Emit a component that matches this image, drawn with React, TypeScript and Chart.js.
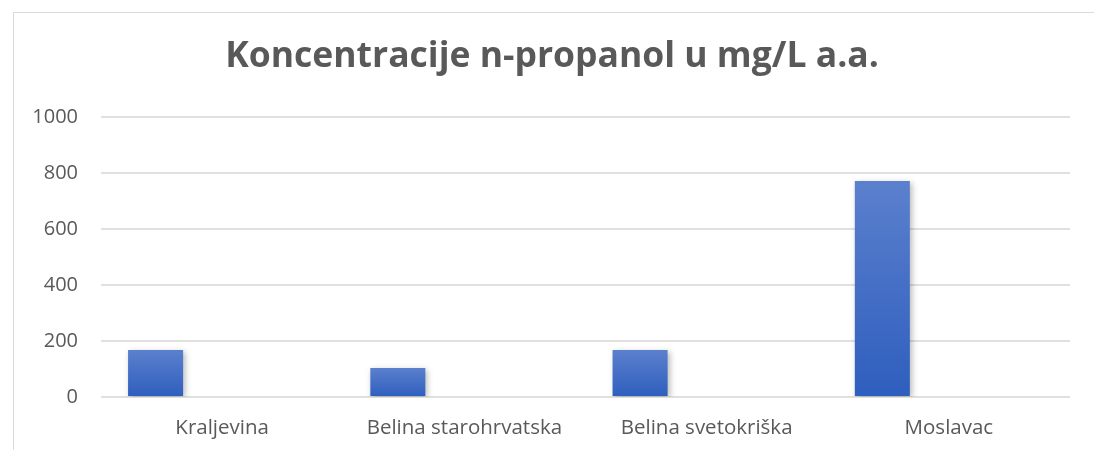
import React, { useEffect, useRef } from "react";
import { Chart, registerables } from "chart.js";

Chart.register(...registerables);

const categories = ["Kraljevina", "Belina starohrvatska", "Belina svetokriška", "Moslavac"];
const nPropanol = [168, 104, 168, 771];
const emptySeriesB: (number | null)[] = [null, null, null, null];
const emptySeriesC: (number | null)[] = [null, null, null, null];
const yTicks = [0, 200, 400, 600, 800, 1000];
const titleText = "Koncentracije n-propanol u mg/L a.a.";

const FONT = "'Open Sans', 'Liberation Sans', sans-serif";
const GREY = "#595959";

const barGradient = (ctx: any) => {
  const chart = ctx.chart;
  const { chartArea, scales } = chart;
  if (!chartArea || ctx.raw == null) return "#4472c4";
  const top = scales.y.getPixelForValue(ctx.raw);
  const bottom = scales.y.getPixelForValue(0);
  const g = chart.ctx.createLinearGradient(0, top, 0, bottom);
  g.addColorStop(0, "#5b80cd");
  g.addColorStop(1, "#2e5ebe");
  return g;
};

const shadowPlugin = {
  id: "barShadow",
  beforeDatasetsDraw(chart: any) {
    const c = chart.ctx;
    c.save();
    c.shadowColor = "rgba(0,0,0,0.28)";
    c.shadowBlur = 6;
    c.shadowOffsetX = 2;
    c.shadowOffsetY = 2;
  },
  afterDatasetsDraw(chart: any) {
    chart.ctx.restore();
  },
};

export default function App() {
  const ref = useRef<HTMLCanvasElement | null>(null);

  useEffect(() => {
    document.body.style.margin = "0";
    if (!ref.current) return;
    const chart = new Chart(ref.current, {
      type: "bar",
      data: {
        labels: categories,
        datasets: [
          { label: "n-propanol", data: nPropanol, backgroundColor: barGradient, borderWidth: 0 },
          { label: "B", data: emptySeriesB, backgroundColor: "#ed7d31" },
          { label: "C", data: emptySeriesC, backgroundColor: "#a5a5a5" },
        ],
      },
      options: {
        animation: false,
        responsive: false,
        maintainAspectRatio: false,
        datasets: { bar: { categoryPercentage: 0.824, barPercentage: 0.827 } },
        layout: { padding: { left: 10, right: 0, top: 0, bottom: 0 } },
        plugins: {
          legend: { display: false },
          tooltip: { enabled: false },
          title: {
            display: true,
            text: titleText,
            color: GREY,
            font: { family: FONT, size: 35.5, weight: "bold" },
            padding: { top: 36, bottom: 38.4 },
          },
        },
        scales: {
          x: {
            grid: { display: false, drawTicks: false },
            border: { display: false },
            ticks: { color: GREY, font: { family: FONT, size: 20.5 }, padding: 19, maxRotation: 0 },
            afterFit: (s: any) => { s.height = 53; },
          },
          y: {
            min: 0,
            max: 1000,
            afterBuildTicks: (s: any) => { s.ticks = yTicks.map((v) => ({ value: v })); },
            grid: { color: "#e0e0e0", lineWidth: 2, drawTicks: false },
            border: { display: false },
            ticks: {
              color: GREY,
              font: { family: FONT, size: 20 },
              padding: 23,
              callback: (v: any) => String(v),
            },
            afterFit: (s: any) => { s.width = 91; },
          },
          yRight: {
            position: "right",
            display: true,
            grid: { display: false, drawTicks: false },
            border: { display: false },
            ticks: { display: false },
            afterFit: (s: any) => { s.width = 24; },
          },
        },
      },
      plugins: [shadowPlugin],
    });
    return () => chart.destroy();
  }, []);

  return (
    <div style={{ position: "relative", width: 1094, height: 450, overflow: "hidden", background: "#fff" }}>
      <div
        style={{
          position: "absolute",
          left: 13,
          top: 12,
          width: 1100,
          height: 460,
          border: "1px solid #d9d9d9",
          boxSizing: "border-box",
        }}
      />
      <canvas ref={ref} width={1094} height={450} style={{ position: "absolute", left: 0, top: 0 }} />
    </div>
  );
}
